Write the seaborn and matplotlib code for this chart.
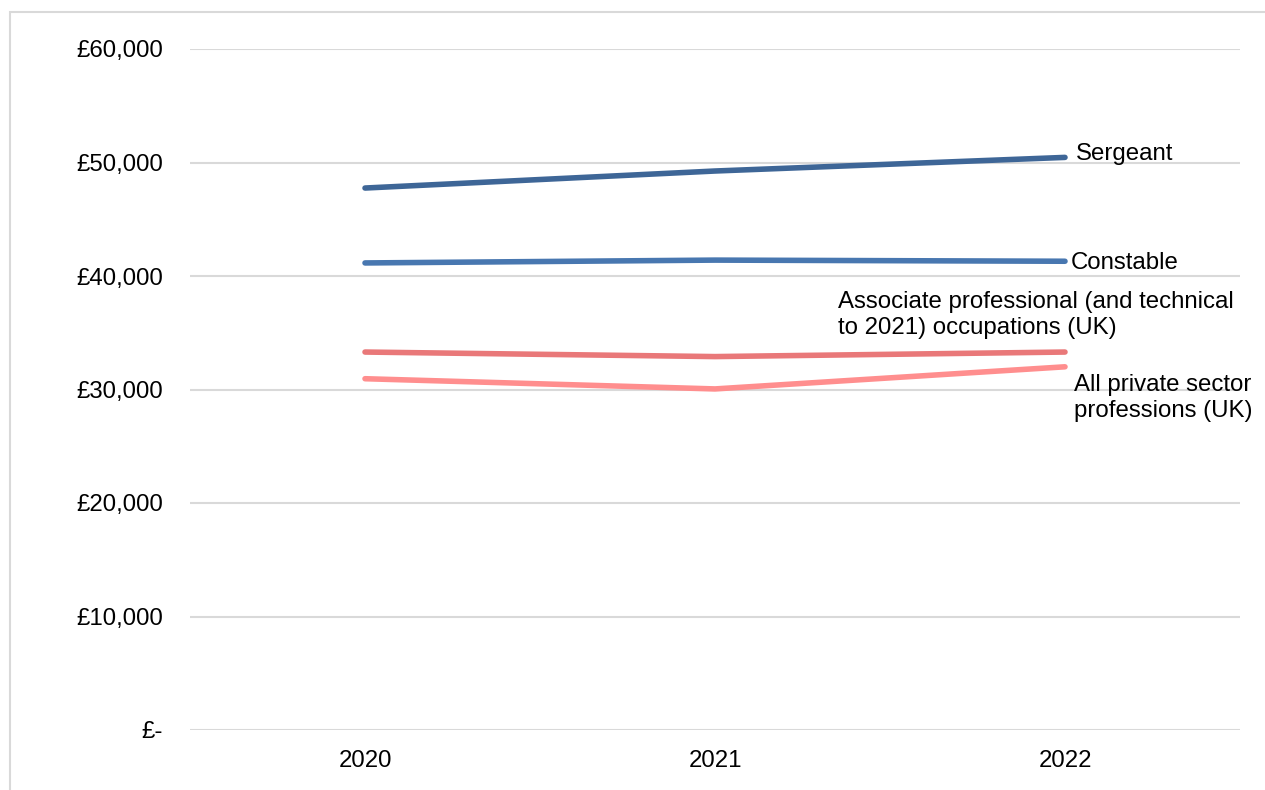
import matplotlib
matplotlib.use("Agg")
import matplotlib.pyplot as plt
import matplotlib.patches as mpatches
import seaborn as sns
import pandas as pd

# Pay data (annual, £)
years = ["2020", "2021", "2022"]
sergeant = [47750, 49250, 50450]
constable = [41150, 41400, 41300]
associate = [33300, 32900, 33300]
private_sector = [30950, 30050, 32000]

series_names = [
    "Sergeant",
    "Constable",
    "Associate professional (and technical\nto 2021) occupations (UK)",
    "All private sector\nprofessions (UK)",
]
series_values = [sergeant, constable, associate, private_sector]
colors = ["#3E6697", "#4877B0", "#E97879", "#FF8E8E"]

y_ticks = [0, 10000, 20000, 30000, 40000, 50000, 60000]
y_tick_labels = ["£-", "£10,000", "£20,000", "£30,000", "£40,000", "£50,000", "£60,000"]

rows = []
for name, vals in zip(series_names, series_values):
    for yr, v in zip(years, vals):
        rows.append({"year": yr, "pay": v, "series": name})
df = pd.DataFrame(rows)

sns.set_theme(style="white")
plt.rcParams["font.family"] = ["Liberation Sans", "DejaVu Sans"]
plt.rcParams["text.color"] = "#000000"

fig = plt.figure(figsize=(12.65, 7.9), dpi=100)
ax = fig.add_axes([190 / 1265, 1 - 730 / 790, 1050 / 1265, 681 / 790])

# light frame around the chart area
fig.patches.append(mpatches.Rectangle(
    (10 / 1265, -0.1), 1.2, 1.1 - 12 / 790, transform=fig.transFigure,
    fill=False, edgecolor="#D9D9D9", linewidth=1.5, zorder=0))

for y in y_ticks:
    ax.axhline(y, color="#D9D9D9", linewidth=1.5, zorder=0)

sns.lineplot(data=df, x="year", y="pay", hue="series", palette=colors,
             hue_order=series_names, linewidth=4.0, ax=ax, legend=False,
             sort=False)
for line in ax.get_lines():
    line.set_solid_capstyle("round")

ax.set_xlim(-0.5, 2.5)
ax.set_ylim(0, 60000)
ax.set_yticks(y_ticks)
ax.set_yticklabels(y_tick_labels)
ax.set_xlabel("")
ax.set_ylabel("")
for s in ax.spines.values():
    s.set_visible(False)
fs = 17.3
ax.tick_params(axis="y", length=0, pad=19.5, labelsize=fs, labelcolor="#000000")
ax.tick_params(axis="x", length=0, pad=14.5, labelsize=fs, labelcolor="#000000")

# end-of-line labels
ax.text(2.03, sergeant[-1] + 300, series_names[0], fontsize=fs, va="center",
        ha="left", color="#000000")
ax.text(2.017, constable[-1] - 150, series_names[1], fontsize=fs, va="center",
        ha="left", color="#000000")
ax.text(1.351, 36550, series_names[2], fontsize=fs, va="center", ha="left",
        linespacing=1.22, color="#000000")
ax.text(2.025, 29250, series_names[3], fontsize=fs, va="center", ha="left",
        linespacing=1.22, color="#000000")

fig.savefig("out.png", dpi=100)
